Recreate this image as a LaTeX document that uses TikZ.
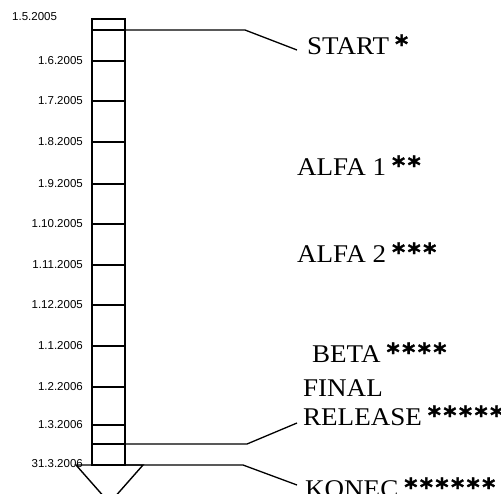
\documentclass[tikz,border=0pt]{standalone}
\usepackage{fontspec}
\setmainfont{Liberation Serif}[FakeStretch=1.06]
\newfontfamily\datefont{Liberation Sans}
\newfontfamily\starfont{DejaVu Sans Bold}[FakeBold=1.5]
\newcommand\onestar{{\starfont\fontsize{25}{25}\selectfont *}}
\newcommand\mystars[1]{\hspace{6pt}\raisebox{1pt}{\foreach \i in {1,...,#1}{\onestar\kern2.5pt}}}
\begin{document}
\begin{tikzpicture}[x=1pt,y=-1pt,
  colline/.style={line width=1.4pt},
  conn/.style={line width=1.3pt},
  datelbl/.style={font=\datefont\fontsize{11.5}{12}\selectfont, anchor=east, inner sep=0pt},
  phase/.style={font=\fontsize{25.5}{29}\selectfont, anchor=base west, inner sep=0pt, align=left}]
\useasboundingbox (0,0) rectangle (501,493);
% column
\draw[colline] (92,19) rectangle (125,465);
\foreach \y in {30,61,101,142,184,224,265,305,346,387,425,444}
  \draw[colline] (92,\y) -- (125,\y);
% triangle
\draw[colline] (76,465) -- (143,465) -- (109.5,503) -- cycle;
% dates
\node[datelbl, anchor=west] (d0) at (12,17) {1.5.2005};
\node[datelbl] (d1) at (83,61) {1.6.2005};
\node[datelbl] (d2) at (83,101) {1.7.2005};
\node[datelbl] (d3) at (83,142) {1.8.2005};
\node[datelbl] (d4) at (83,184) {1.9.2005};
\node[datelbl] (d5) at (83,224) {1.10.2005};
\node[datelbl] (d6) at (83,265) {1.11.2005};
\node[datelbl] (d7) at (83,305) {1.12.2005};
\node[datelbl] (d8) at (83,346) {1.1.2006};
\node[datelbl] (d9) at (83,387) {1.2.2006};
\node[datelbl] (d10) at (83,425) {1.3.2006};
\node[datelbl] (d11) at (83,464) {31.3.2006};
% phases
\node[phase] (start) at (307,54) {START\mystars{1}};
\node[phase] (alfa1) at (297,175) {ALFA 1\mystars{2}};
\node[phase] (alfa2) at (297,262) {ALFA 2\mystars{3}};
\node[phase] (beta) at (312,362) {BETA\mystars{4}};
\node[phase] (final) at (303,425) {FINAL\\RELEASE\mystars{5}};
\node[phase] (konec) at (305,497) {KONEC\mystars{6}};
% connectors
\coordinate (cs) at (125,30);
\coordinate (cf) at (125,444);
\coordinate (ck) at (125,465);
\coordinate (es) at (297,50);
\coordinate (ef) at (297,423);
\coordinate (ek) at (297,485);
\draw[conn] (cs) -- (245,30) -- (es);
\draw[conn] (cf) -- (247,444) -- (ef);
\draw[conn] (ck) -- (243,465) -- (ek);
\end{tikzpicture}
\end{document}
